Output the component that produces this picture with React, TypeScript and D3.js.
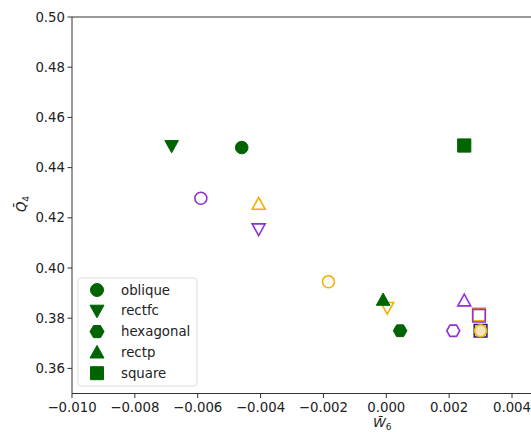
import * as React from "react";
import * as d3 from "d3";

// marker kinds, in legend order
const shapeNames = ["oblique", "rectfc", "hexagonal", "rectp", "square"];

// filled green series
const greenPoints = [
  { shape: "rectfc", x: -0.00683, y: 0.4486 },
  { shape: "oblique", x: -0.0046, y: 0.448 },
  { shape: "square", x: 0.00248, y: 0.4488 },
  { shape: "rectp", x: -0.0001, y: 0.3873 },
  { shape: "hexagonal", x: 0.00044, y: 0.375 },
];

// open purple series
const purplePoints = [
  { shape: "oblique", x: -0.0059, y: 0.4278 },
  { shape: "rectfc", x: -0.00406, y: 0.4155 },
  { shape: "hexagonal", x: 0.00213, y: 0.375 },
  { shape: "rectp", x: 0.00248, y: 0.387 },
  { shape: "square", x: 0.00295, y: 0.381 },
];

// open orange series
const orangePoints = [
  { shape: "rectp", x: -0.00406, y: 0.4255 },
  { shape: "oblique", x: -0.00184, y: 0.3945 },
  { shape: "rectfc", x: 0.00003, y: 0.3842 },
  { shape: "square", x: 0.00295, y: 0.3815 },
  { shape: "oblique", x: 0.003, y: 0.375 },
];

// open navy series
const navyPoints = [{ shape: "square", x: 0.003, y: 0.375 }];

const xTicks = [-0.01, -0.008, -0.006, -0.004, -0.002, 0, 0.002, 0.004];
const yTicks = [0.36, 0.38, 0.4, 0.42, 0.44, 0.46, 0.48, 0.5];

const green = "#006400";
const purple = "#9030d8";
const orange = "#f5b000";
const navy = "#1c1c78";

function markerPath(shape: string, s: number) {
  if (shape === "oblique") {
    return d3.symbol(d3.symbolCircle, Math.PI * s * s)();
  }
  if (shape === "square") {
    return `M${-s},${-s}L${s},${-s}L${s},${s}L${-s},${s}Z`;
  }
  if (shape === "rectp") {
    return `M0,${-s}L${s},${s * 0.8}L${-s},${s * 0.8}Z`;
  }
  if (shape === "rectfc") {
    return `M0,${s}L${s},${-s * 0.8}L${-s},${-s * 0.8}Z`;
  }
  // hexagon
  const p = d3.path();
  for (let i = 0; i < 6; i++) {
    const a = (Math.PI / 3) * i;
    const px = s * Math.cos(a);
    const py = s * Math.sin(a);
    if (i === 0) p.moveTo(px, py);
    else p.lineTo(px, py);
  }
  p.closePath();
  return p.toString();
}

function App() {
  const left = 72;
  const top = 17;
  const bottom = 393.5;

  const x = d3.scaleLinear().domain([-0.01, 0.004]).range([left, 512]);
  const y = d3.scaleLinear().domain([0.35, 0.5]).range([bottom, top]);

  const fmt = (d: number) => d3.format(".3f")(d).replace("-", "\u2212");

  const font = "DejaVu Sans, sans-serif";

  const drawPoints = (pts: any[], color: string, filled: boolean, fill?: string) =>
    pts.map((d, i) => {
      const s = d.shape === "square" ? 6.6 : d.shape === "oblique" ? 6.3 : 6.8;
      return (
        <path
          key={i}
          transform={`translate(${x(d.x)}, ${y(d.y)})`}
          d={markerPath(d.shape, filled ? s : s - 0.3) as string}
          fill={filled ? color : fill || "none"}
          stroke={color}
          strokeWidth={filled ? 1 : 1.6}
        />
      );
    });

  return (
    <svg
      width={531}
      height={432}
      style={{ position: "absolute", left: 0, top: 0, background: "white" }}
      fontFamily={font}
    >
      <rect width={531} height={432} fill="white" />

      {/* spines */}
      <path d={`M${left},${bottom}L${left},${top}L${560},${top}`} stroke="#333" fill="none" strokeWidth={1} />
      <path d={`M${left},${bottom}L${560},${bottom}`} stroke="#333" fill="none" strokeWidth={1} />

      {/* x axis */}
      {xTicks.map((d, i) => (
        <g key={i} transform={`translate(${x(d)}, ${bottom})`}>
          <path d="M0,0L0,4.5" stroke="#333" />
          <text y={18} textAnchor="middle" fontSize={13.3} fill="#222">
            {fmt(d)}
          </text>
        </g>
      ))}
      <text x={x(0) - 4} y={427} textAnchor="middle" fontSize={13} fill="#222">
        <tspan fontStyle="italic">W&#772;</tspan>
        <tspan fontSize={9} dy={2.5}>6</tspan>
      </text>

      {/* y axis */}
      {yTicks.map((d, i) => (
        <g key={i} transform={`translate(${left}, ${y(d)})`}>
          <path d="M0,0L-4.5,0" stroke="#333" />
          <text x={-7} dy="0.35em" textAnchor="end" fontSize={13.3} fill="#222">
            {d.toFixed(2)}
          </text>
        </g>
      ))}
      <text transform={`translate(26, 204) rotate(-90)`} textAnchor="middle" fontSize={13.3} fill="#222">
        <tspan fontStyle="italic">Q&#772;</tspan>
        <tspan fontSize={9} dy={3}>4</tspan>
      </text>

      {/* points */}
      {drawPoints(orangePoints.slice(3, 4), orange, false)}
      {drawPoints(purplePoints, purple, false)}
      {drawPoints(navyPoints, navy, false)}
      {drawPoints(orangePoints.slice(0, 3), orange, false)}
      {drawPoints(orangePoints.slice(4), orange, false, "#f4e6b8")}
      {drawPoints(greenPoints, green, true)}

      {/* legend */}
      <g transform={`translate(78, 278)`}>
        <rect width={119} height={108} rx={3} fill="white" fillOpacity={0.8} stroke="#ddd" />
        {shapeNames.map((d, i) => (
          <g key={d} transform={`translate(0, ${12 + i * 20.8})`}>
            <path
              transform="translate(19, 0)"
              d={markerPath(d, d === "square" ? 6.5 : d === "oblique" ? 6.5 : 7) as string}
              fill={green}
              stroke={green}
            />
            <text x={43} dy="0.35em" fontSize={13.3} fill="#222">
              {d}
            </text>
          </g>
        ))}
      </g>
    </svg>
  );
}

export default App;
